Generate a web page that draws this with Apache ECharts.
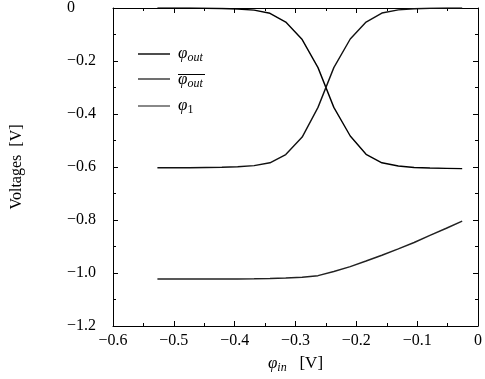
<!DOCTYPE html>
<html>
<head>
<meta charset="utf-8">
<script src="https://cdn.jsdelivr.net/npm/echarts@6/dist/echarts.min.js"></script>
<style>
  html, body { margin: 0; padding: 0; background: #fff; }
  #chart { width: 485px; height: 379px; }
</style>
</head>
<body>
<div id="chart"></div>
<script>
// ---- data ----
const xVals = [-0.527, -0.500, -0.474, -0.447, -0.421, -0.395, -0.368, -0.342, -0.316, -0.289,
               -0.263, -0.237, -0.210, -0.184, -0.158, -0.131, -0.105, -0.079, -0.052, -0.026];
const phiOut = [0, 0, 0, -0.001, -0.002, -0.004, -0.008, -0.020, -0.053, -0.119,
                -0.225, -0.375, -0.483, -0.552, -0.584, -0.596, -0.602, -0.604, -0.605, -0.606];
const phiOutBar = [-0.603, -0.603, -0.603, -0.602, -0.601, -0.599, -0.595, -0.584, -0.553, -0.487,
                   -0.375, -0.225, -0.117, -0.053, -0.019, -0.007, -0.003, -0.001, 0, 0];
const phi1 = [-1.023, -1.023, -1.023, -1.023, -1.023, -1.023, -1.022, -1.021, -1.019, -1.016,
              -1.010, -0.994, -0.976, -0.955, -0.933, -0.909, -0.885, -0.858, -0.831, -0.804];
const xTicks = { min: -0.6, max: 0, step: 0.1 };
const yTicks = { min: -1.2, max: 0, step: 0.2 };
const seriesNames = ['phiOut', 'phiOutBar', 'phi1'];

const FONT = 'Liberation Serif';
function pair(xs, ys) { return xs.map((x, i) => [x, ys[i]]); }
function fmt(v) {
  if (Math.abs(v) < 1e-9) return '0';
  return (v < 0 ? '\u2212' : '') + Math.abs(v).toFixed(1);
}
const legendLabels = {
  phiOut: '{phi|φ}{sub|out}',
  phiOutBar: '{bar|\u00A0}\n{phi2|φ}{sub2|out}',
  phi1: '{phi|φ}{subn|1}'
};

function tickCommon() {
  return {
    axisLine: { show: true, onZero: false, lineStyle: { color: '#000', width: 1 } },
    axisTick: { show: true, inside: true, length: 5, lineStyle: { color: '#000', width: 1 } },
    minorTick: { show: true, splitNumber: 2, length: 3, lineStyle: { color: '#000', width: 1 } },
    splitLine: { show: false },
    minorSplitLine: { show: false }
  };
}

const chart = echarts.init(document.getElementById('chart'), null, { renderer: 'canvas' });
chart.setOption({
  animation: false,
  backgroundColor: '#fff',
  grid: { left: 113, right: 5, top: 6, bottom: 52, containLabel: false },
  legend: {
    show: true,
    orient: 'vertical',
    left: 138, top: 44, padding: 0,
    icon: 'rect',
    itemWidth: 32, itemHeight: 1.4, itemGap: 6,
    data: [
      { name: seriesNames[0], textStyle: { padding: [0, 0, 0, 3] } },
      { name: seriesNames[1], textStyle: { padding: [4, 0, 3, 3] } },
      { name: seriesNames[2], textStyle: { padding: [0, 0, 0, 3] } }
    ],
    formatter: n => legendLabels[n],
    textStyle: {
      fontFamily: FONT, color: '#000', lineHeight: 18,
      rich: {
        phi: { fontFamily: FONT, fontStyle: 'italic', fontSize: 17, color: '#000', lineHeight: 18 },
        sub: { fontFamily: FONT, fontStyle: 'italic', fontSize: 12, color: '#000', padding: [8, 0, 0, 0], lineHeight: 18 },
        subn: { fontFamily: FONT, fontSize: 12, color: '#000', padding: [8, 0, 0, 0], lineHeight: 18 },
        phi2: { fontFamily: FONT, fontStyle: 'italic', fontSize: 17, color: '#000', lineHeight: 10 },
        sub2: { fontFamily: FONT, fontStyle: 'italic', fontSize: 12, color: '#000', padding: [8, 0, 0, 0], lineHeight: 10 },
        bar: { width: 27, height: 1, lineHeight: 1, fontSize: 1, backgroundColor: '#000', padding: 0 }
      }
    }
  },
  xAxis: [
    Object.assign(tickCommon(), {
      type: 'value', min: xTicks.min, max: xTicks.max, interval: xTicks.step, position: 'bottom',
      name: '{phi|φ}{sub|in}{t|   [V]}', nameLocation: 'middle', nameGap: 28,
      nameTextStyle: {
        fontFamily: FONT, color: '#000',
        rich: {
          phi: { fontFamily: FONT, fontStyle: 'italic', fontSize: 17, color: '#000' },
          sub: { fontFamily: FONT, fontStyle: 'italic', fontSize: 12, color: '#000', padding: [8, 0, 0, 0] },
          t: { fontFamily: FONT, fontSize: 17, color: '#000' }
        }
      },
      axisLabel: { show: true, formatter: fmt, fontFamily: FONT, fontSize: 16, color: '#000', margin: 7 }
    }),
    Object.assign(tickCommon(), {
      type: 'value', min: xTicks.min, max: xTicks.max, interval: xTicks.step, position: 'top',
      axisLabel: { show: false }
    })
  ],
  yAxis: [
    Object.assign(tickCommon(), {
      type: 'value', min: yTicks.min, max: yTicks.max, interval: yTicks.step, position: 'left',
      name: 'Voltages  [V]', nameLocation: 'middle', nameGap: 88, nameRotate: 90,
      nameTextStyle: { fontFamily: FONT, fontSize: 16, color: '#000' },
      axisLabel: { show: true, formatter: fmt, fontFamily: FONT, fontSize: 16, color: '#000', margin: 46, align: 'left' }
    }),
    Object.assign(tickCommon(), {
      type: 'value', min: yTicks.min, max: yTicks.max, interval: yTicks.step, position: 'right',
      axisLabel: { show: false }
    })
  ],
  series: [
    { name: 'phiOut', type: 'line', data: pair(xVals, phiOut), showSymbol: false, symbol: 'none',
      lineStyle: { color: '#000', width: 1.4 }, itemStyle: { color: '#000' } },
    { name: 'phiOutBar', type: 'line', data: pair(xVals, phiOutBar), showSymbol: false, symbol: 'none',
      lineStyle: { color: '#111', width: 1.4 }, itemStyle: { color: '#333' } },
    { name: 'phi1', type: 'line', data: pair(xVals, phi1), showSymbol: false, symbol: 'none',
      lineStyle: { color: '#222', width: 1.5 }, itemStyle: { color: '#555' } }
  ]
});
</script>
</body>
</html>
